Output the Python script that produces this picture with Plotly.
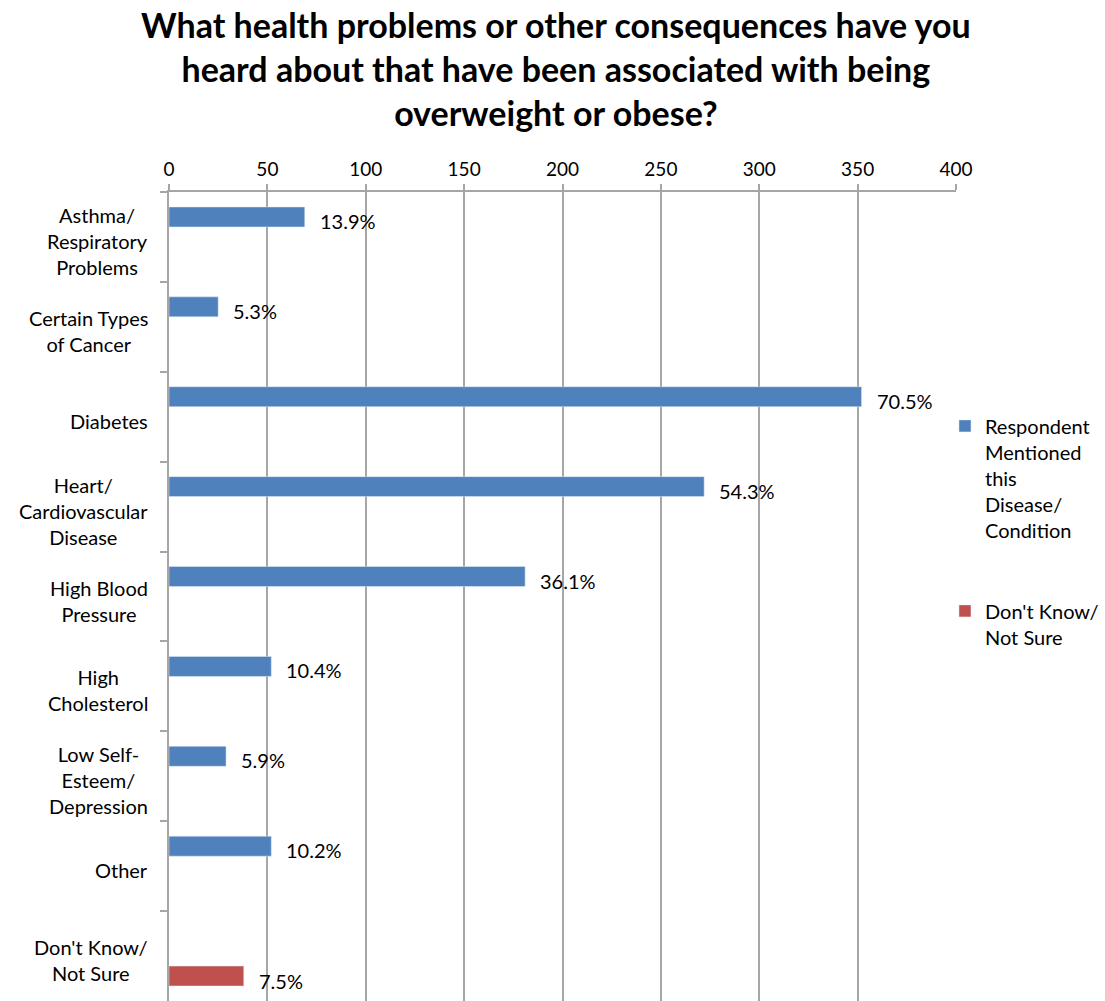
import plotly.graph_objects as go

categories = [
    "Asthma/<br>Respiratory<br>Problems",
    "Certain Types<br>of Cancer",
    "Diabetes",
    "Heart/<br>Cardiovascular<br>Disease",
    "High Blood<br>Pressure",
    "High<br>Cholesterol",
    "Low Self-<br>Esteem/<br>Depression",
    "Other",
    "Don't Know/<br>Not Sure",
]
mentioned = [69, 25, 352, 272, 181, 52, 29, 52, None]
dont_know = [None, None, None, None, None, None, None, None, 38]
mentioned_pct = ["13.9%", "5.3%", "70.5%", "54.3%", "36.1%", "10.4%", "5.9%", "10.2%", None]
dont_know_pct = [None, None, None, None, None, None, None, None, "7.5%"]
x_ticks = [0, 50, 100, 150, 200, 250, 300, 350, 400]
title_text = ("What health problems or other consequences have you<br>"
              "heard about that have been associated with being<br>"
              "overweight or obese?")

FONT = "Lato"
BLUE = "#4F81BD"
RED = "#C0504D"
GRID = "#A6A6A6"

fig = go.Figure()
fig.add_trace(go.Bar(
    y=categories, x=mentioned, orientation="h",
    name="Respondent<br>Mentioned<br>this<br>Disease/<br>Condition",
    marker=dict(color=BLUE), legendgroup="a", hoverinfo="x+y",
))
fig.add_trace(go.Bar(
    y=categories, x=dont_know, orientation="h",
    name="Don't Know/<br>Not Sure",
    marker=dict(color=RED), legendgroup="b", hoverinfo="x+y",
))

annotations = []
for cat, v, t in zip(categories, mentioned, mentioned_pct):
    if v is not None:
        annotations.append(dict(x=v, y=cat, xref="x", yref="y", text=t, showarrow=False,
                                xanchor="left", yanchor="middle", xshift=13, yshift=16,
                                font=dict(family=FONT, size=20, color="black")))
for cat, v, t in zip(categories, dont_know, dont_know_pct):
    if v is not None:
        annotations.append(dict(x=v, y=cat, xref="x", yref="y", text=t, showarrow=False,
                                xanchor="left", yanchor="middle", xshift=13, yshift=-25,
                                font=dict(family=FONT, size=20, color="black")))
for cat in categories:
    annotations.append(dict(x=0, y=cat, xref="paper", yref="y", text=cat, showarrow=False,
                            xanchor="right", yanchor="middle", align="center", xshift=-19, yshift=-4,
                            font=dict(family=FONT, size=20, color="black")))
annotations.append(dict(x=0.4917, y=1.235, xref="paper", yref="paper", text=title_text,
                        showarrow=False, xanchor="center", yanchor="top", align="center",
                        font=dict(family=FONT, size=34, color="black", weight="bold")))

fig.update_layout(
    width=1105, height=1001,
    margin=dict(l=169, r=149, t=192, b=0, autoexpand=False),
    paper_bgcolor="white", plot_bgcolor="white",
    barmode="group", bargap=0.111, bargroupgap=0.5,
    font=dict(family=FONT, size=19, color="black"),
    xaxis=dict(
        side="top", range=[0, 400], tickvals=x_ticks, ticktext=[str(t) for t in x_ticks],
        showgrid=True, gridcolor=GRID, gridwidth=2,
        showline=True, linecolor=GRID, linewidth=2,
        ticks="outside", ticklen=6, tickcolor=GRID, tickwidth=2,
        tickfont=dict(family=FONT, size=19, color="black"), zeroline=False, fixedrange=True,
    ),
    yaxis=dict(
        autorange="reversed", showticklabels=False, tickson="boundaries",
        ticks="outside", ticklen=7, tickcolor=GRID, tickwidth=2,
        showline=True, linecolor=GRID, linewidth=2, showgrid=False, fixedrange=True,
    ),
    legend=dict(
        x=0.986, y=0.735, xanchor="left", yanchor="top", valign="top",
        bgcolor="rgba(0,0,0,0)",
        font=dict(family=FONT, size=20, color="black"), tracegroupgap=52,
        itemwidth=30,
    ),
    annotations=annotations,
)

fig.write_html("out.html")
